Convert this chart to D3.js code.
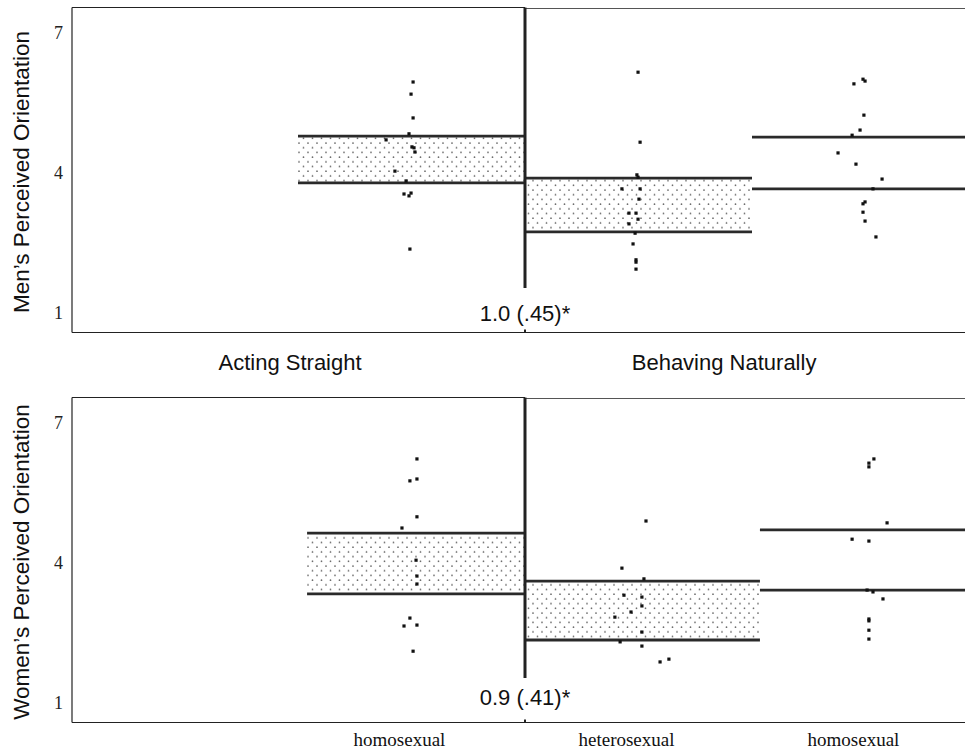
<!DOCTYPE html>
<html>
<head>
<meta charset="utf-8">
<script src="https://cdn.jsdelivr.net/npm/d3@7"></script>
<style>
  body { margin: 0; background: #fff; }
</style>
</head>
<body>
<svg id="chart" width="965" height="749"></svg>
<script>
// condition headings, group names, axis ticks
const conditions = ["Acting Straight", "Behaving Naturally"];
const groups = ["homosexual", "heterosexual", "homosexual"];
const yTicks = [1, 4, 7];
const panelTitles = ["Men\u2019s Perceived Orientation", "Women\u2019s Perceived Orientation"];
const effects = ["1.0 (.45)*", "0.9 (.41)*"];

// interval (band) for each group, and its extent in group units
const bandShaded = [true, true, false];
const menLow = [3.79, 2.74, 3.66];
const menHigh = [4.79, 3.89, 4.77];
const menExtent = [[0, 1], [1, 2], [2, 3]];
const womenLow = [3.34, 2.35, 3.42];
const womenHigh = [4.64, 3.61, 4.71];
const womenExtent = [[0.04, 1], [1, 2.035], [2.035, 3]];

// individual ratings: [group position (jittered), rating]
const menDots = [
  [0.507, 5.95], [0.498, 5.69], [0.507, 5.18], [0.489, 4.84], [0.388, 4.71],
  [0.502, 4.56], [0.511, 4.54], [0.515, 4.45], [0.427, 4.04], [0.476, 3.83],
  [0.467, 3.55], [0.498, 3.57], [0.489, 3.51], [0.493, 2.37],
  [1.498, 6.16], [1.507, 4.66], [1.493, 3.96], [1.498, 3.91], [1.427, 3.66],
  [1.507, 3.66], [1.502, 3.44], [1.458, 3.14], [1.489, 3.14], [1.498, 3.01],
  [1.458, 2.91], [1.485, 2.71], [1.476, 2.48], [1.489, 2.14], [1.489, 2.09],
  [1.489, 1.94],
  [2.489, 6.01], [2.498, 5.97], [2.449, 5.91], [2.493, 5.24], [2.476, 4.92],
  [2.441, 4.81], [2.379, 4.43], [2.458, 4.19], [2.573, 3.87], [2.533, 3.66],
  [2.498, 3.38], [2.489, 3.34], [2.489, 3.16], [2.498, 2.97], [2.546, 2.63]
];
const womenDots = [
  [0.524, 6.23], [0.493, 5.76], [0.524, 5.80], [0.524, 4.99], [0.458, 4.75],
  [0.520, 4.06], [0.524, 3.72], [0.524, 3.55], [0.493, 2.82], [0.467, 2.65],
  [0.524, 2.67], [0.507, 2.11],
  [1.533, 4.90], [1.427, 3.89], [1.524, 3.66], [1.436, 3.31], [1.515, 3.27],
  [1.515, 3.08], [1.467, 2.95], [1.396, 2.84], [1.515, 2.52], [1.419, 2.31],
  [1.515, 2.22], [1.595, 1.88], [1.634, 1.94],
  [2.537, 6.23], [2.515, 6.14], [2.515, 6.06], [2.595, 4.86], [2.441, 4.51],
  [2.515, 4.47], [2.507, 3.42], [2.533, 3.38], [2.577, 3.23], [2.515, 2.80],
  [2.515, 2.76], [2.515, 2.56], [2.515, 2.37]
];

const svg = d3.select("#chart");
const sans = "Liberation Sans, Arial, sans-serif";
const serif = "Liberation Serif, Times New Roman, serif";

const defs = svg.append("defs");
const pat = defs.append("pattern")
  .attr("id", "dots")
  .attr("patternUnits", "userSpaceOnUse")
  .attr("width", 9).attr("height", 9.4);
pat.append("rect").attr("width", 9).attr("height", 9.4).attr("fill", "#fff");
pat.append("circle").attr("cx", 2).attr("cy", 2).attr("r", 0.85).attr("fill", "#666");
pat.append("circle").attr("cx", 6.5).attr("cy", 6.7).attr("r", 0.85).attr("fill", "#666");

const x = d3.scaleLinear().domain([0, 3]).range([298, 979]);
const left = 72, mid = 525, right = 965;

const panels = [
  { title: panelTitles[0], effect: effects[0], low: menLow, high: menHigh, ext: menExtent, dots: menDots,
    top: 7.5, bottom: 332.5, y: d3.scaleLinear().domain([1, 7]).range([313, 33]), effY: 321 },
  { title: panelTitles[1], effect: effects[1], low: womenLow, high: womenHigh, ext: womenExtent, dots: womenDots,
    top: 397.5, bottom: 722.5, y: d3.scaleLinear().domain([1, 7]).range([703, 423]), effY: 705 }
];

panels.forEach(p => {
  const g = svg.append("g");
  const y = p.y;

  // bands
  groups.forEach((name, i) => {
    const x0 = x(p.ext[i][0]), x1 = Math.min(x(p.ext[i][1]), right);
    if (bandShaded[i]) {
      g.append("rect")
        .attr("x", x0).attr("width", x1 - x0)
        .attr("y", y(p.high[i])).attr("height", y(p.low[i]) - y(p.high[i]))
        .attr("fill", "url(#dots)");
    }
    [p.high[i], p.low[i]].forEach(v => {
      g.append("line")
        .attr("x1", x0).attr("x2", x1)
        .attr("y1", y(v)).attr("y2", y(v))
        .attr("stroke", "#2a2a2a").attr("stroke-width", 2.8);
    });
  });

  // frame
  const frame = g.append("g").attr("stroke", "#222").attr("stroke-width", 1.2).attr("fill", "none");
  frame.append("line").attr("x1", left).attr("x2", mid).attr("y1", p.top).attr("y2", p.top);
  frame.append("line").attr("x1", mid).attr("x2", right).attr("y1", p.top + 1).attr("y2", p.top + 1).attr("stroke", "#555");
  frame.append("line").attr("x1", left).attr("x2", left).attr("y1", p.top).attr("y2", p.bottom);
  frame.append("line").attr("x1", left).attr("x2", right).attr("y1", p.bottom).attr("y2", p.bottom);

  // divider between conditions
  g.append("line")
    .attr("x1", mid).attr("x2", mid)
    .attr("y1", p.top).attr("y2", y.range()[0] - 25)
    .attr("stroke", "#222").attr("stroke-width", 3);
  g.append("line")
    .attr("x1", mid).attr("x2", mid)
    .attr("y1", p.bottom - 3).attr("y2", p.bottom)
    .attr("stroke", "#222").attr("stroke-width", 2);

  // individual ratings
  g.selectAll(".dot").data(p.dots).enter().append("rect")
    .attr("class", "dot")
    .attr("x", d => x(d[0]) - 1.6).attr("y", d => y(d[1]) - 1.6)
    .attr("width", 3.2).attr("height", 3.2)
    .attr("fill", "#111");

  // y axis
  const ax = g.append("g")
    .attr("transform", `translate(${left},0)`)
    .call(d3.axisLeft(y).tickValues(yTicks).tickSize(0).tickPadding(9).tickFormat(d3.format("d")));
  ax.select(".domain").remove();
  ax.selectAll("text").attr("font-family", serif).attr("font-size", 18).attr("fill", "#222");

  g.append("text")
    .attr("transform", `translate(29,${(p.top + p.bottom) / 2 + 2}) rotate(-90)`)
    .attr("text-anchor", "middle")
    .attr("font-family", sans).attr("font-size", 22.5).attr("fill", "#111")
    .text(p.title);

  g.append("text")
    .attr("x", mid).attr("y", p.effY)
    .attr("text-anchor", "middle")
    .attr("font-family", sans).attr("font-size", 22).attr("fill", "#111")
    .text(p.effect);
});

// condition headings between panels
const condX = [-0.035, 1.877];
conditions.forEach((c, i) => {
  svg.append("text")
    .attr("x", x(condX[i])).attr("y", 370)
    .attr("text-anchor", "middle")
    .attr("font-family", sans).attr("font-size", 22).attr("fill", "#111")
    .text(c);
});

// group labels under the bottom panel
groups.forEach((name, i) => {
  svg.append("text")
    .attr("x", x(i + 0.5) - 12).attr("y", 746)
    .attr("text-anchor", "middle")
    .attr("font-family", serif).attr("font-size", 19).attr("fill", "#111")
    .text(name);
});
</script>
</body>
</html>
